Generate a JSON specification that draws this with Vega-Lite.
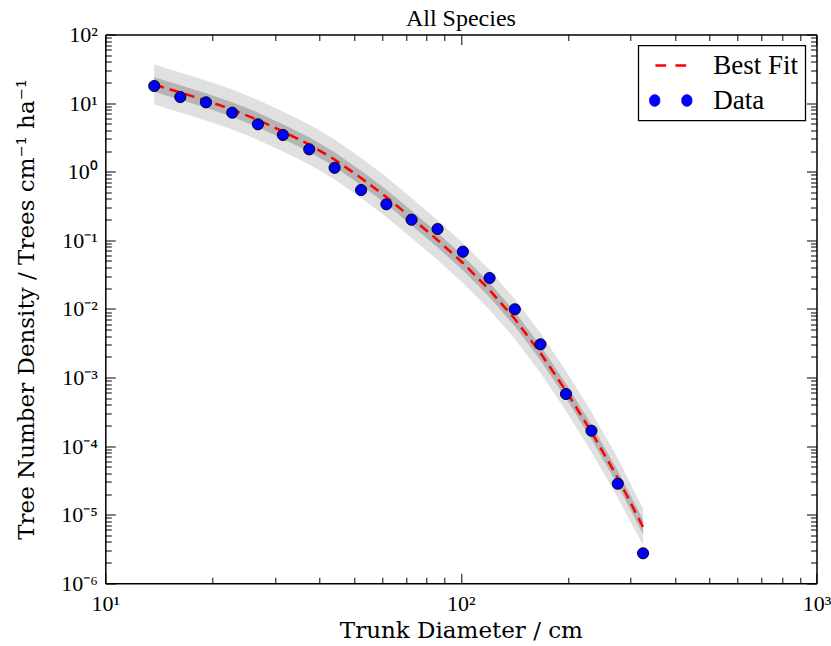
{
  "$schema": "https://vega.github.io/schema/vega-lite/v6.json",
  "width": 711.2,
  "height": 548.8,
  "autosize": {"type": "none"},
  "padding": {"left": 105.3, "top": 34.5, "right": 14.5, "bottom": 62.7},
  "background": "white",
  "title": {"text": "All Species", "font": "Liberation Serif", "fontSize": 24, "fontWeight": "normal", "color": "black", "offset": -7},
  "config": {
    "view": {"stroke": null},
    "axis": {
      "domainColor": "black", "domainWidth": 1.5, "tickColor": "black", "tickWidth": 1, "grid": false,
      "labelFont": "Liberation Serif", "labelFontSize": 22, "labelColor": "black",
      "titleFont": "DejaVu Serif", "titleFontSize": 23, "titleFontWeight": "normal", "titleColor": "black",
      "labelFlush": false, "labelOverlap": false, "labelBound": false
    }
  },
  "data": {"values": [
    {"D":13.73,"N":17.75,"fit":18.67,"lo1":9.574,"hi1":36.41,"lo2":14.59,"hi2":23.90},
    {"D":16.25,"N":12.27,"fit":14.27,"lo1":7.318,"hi1":27.83,"lo2":11.15,"hi2":18.27},
    {"D":19.19,"N":10.27,"fit":10.91,"lo1":5.595,"hi1":21.27,"lo2":8.523,"hi2":13.96},
    {"D":22.75,"N":7.25,"fit":8.067,"lo1":4.137,"hi1":15.73,"lo2":6.302,"hi2":10.33},
    {"D":26.87,"N":4.91,"fit":5.670,"lo1":2.908,"hi1":11.06,"lo2":4.430,"hi2":7.258},
    {"D":31.59,"N":3.43,"fit":3.855,"lo1":1.977,"hi1":7.517,"lo2":3.012,"hi2":4.934},
    {"D":37.45,"N":2.12,"fit":2.492,"lo1":1.278,"hi1":4.859,"lo2":1.947,"hi2":3.190},
    {"D":44.14,"N":1.14,"fit":1.506,"lo1":0.7723,"hi1":2.937,"lo2":1.177,"hi2":1.928},
    {"D":52.40,"N":0.541,"fit":0.8095,"lo1":0.4151,"hi1":1.579,"lo2":0.6324,"hi2":1.036},
    {"D":61.72,"N":0.3348,"fit":0.4278,"lo1":0.2194,"hi1":0.8342,"lo2":0.3342,"hi2":0.5476},
    {"D":72.66,"N":0.1997,"fit":0.2114,"lo1":0.1084,"hi1":0.4122,"lo2":0.1652,"hi2":0.2706},
    {"D":85.97,"N":0.1461,"fit":0.1010,"lo1":0.05179,"hi1":0.1970,"lo2":0.07891,"hi2":0.1293},
    {"D":101.3,"N":0.0682,"fit":0.04668,"lo1":0.02394,"hi1":0.09103,"lo2":0.03647,"hi2":0.05975},
    {"D":120.4,"N":0.02821,"fit":0.01886,"lo1":0.009672,"hi1":0.03678,"lo2":0.01473,"hi2":0.02414},
    {"D":141.8,"N":0.009867,"fit":0.007125,"lo1":0.003654,"hi1":0.01389,"lo2":0.005566,"hi2":0.00912},
    {"D":167.4,"N":0.003048,"fit":0.002276,"lo1":0.001167,"hi1":0.004438,"lo2":0.001778,"hi2":0.002913},
    {"D":197.5,"N":0.0005747,"fit":0.0006356,"lo1":0.0003259,"hi1":0.001239,"lo2":0.0004966,"hi2":0.0008136},
    {"D":232.9,"N":0.0001677,"fit":0.0001605,"lo1":0.00008231,"hi1":0.000313,"lo2":0.0001254,"hi2":0.0002054},
    {"D":276.2,"N":0.00002831,"fit":0.00003428,"lo1":0.00001758,"hi1":0.00006685,"lo2":0.00002678,"hi2":0.00004388},
    {"D":325.3,"N":0.000002737,"fit":0.000006617,"lo1":0.000003577,"hi1":0.00001224,"lo2":0.00000517,"hi2":0.00000847}
  ]},
  "resolve": {"axis": {"x": "independent", "y": "independent"}},
  "layer": [
    {
      "mark": {"type": "area", "color": "#e0e0e0", "opacity": 1},
      "encoding": {
        "x": {"field": "D", "type": "quantitative",
          "scale": {"type": "log", "domain": [10, 1000], "nice": false},
          "axis": {"orient": "bottom", "values": [10, 100, 1000], "tickSize": -10, "labelPadding": 20,
            "labelExpr": "'10' + ['⁻⁶','⁻⁵','⁻⁴','⁻³','⁻²','⁻¹','⁰','¹','²','³'][round(log(datum.value)/LN10)+6]",
            "title": "Trunk Diameter / cm", "titlePadding": 5}},
        "y": {"field": "lo1", "type": "quantitative",
          "scale": {"type": "log", "domain": [0.000001, 100], "nice": false},
          "axis": {"orient": "left", "values": [0.000001, 0.00001, 0.0001, 0.001, 0.01, 0.1, 1, 10, 100], "tickSize": -10, "labelPadding": 18,
            "labelExpr": "'10' + ['⁻⁶','⁻⁵','⁻⁴','⁻³','⁻²','⁻¹','⁰','¹','²','³'][round(log(datum.value)/LN10)+6]",
            "title": "Tree Number Density / Trees cm⁻¹ ha⁻¹", "titlePadding": 22}},
        "y2": {"field": "hi1"}
      }
    },
    {
      "mark": {"type": "area", "color": "#b4b4b4", "opacity": 1},
      "encoding": {
        "x": {"field": "D", "type": "quantitative",
          "axis": {"orient": "bottom", "values": [20,30,40,50,60,70,80,90,200,300,400,500,600,700,800,900], "tickSize": -6, "labels": false, "domain": false, "title": null}},
        "y": {"field": "lo2", "type": "quantitative",
          "axis": {"orient": "left", "values": [2e-6,3e-6,4e-6,5e-6,6e-6,7e-6,8e-6,9e-6,2e-5,3e-5,4e-5,5e-5,6e-5,7e-5,8e-5,9e-5,2e-4,3e-4,4e-4,5e-4,6e-4,7e-4,8e-4,9e-4,0.002,0.003,0.004,0.005,0.006,0.007,0.008,0.009,0.02,0.03,0.04,0.05,0.06,0.07,0.08,0.09,0.2,0.3,0.4,0.5,0.6,0.7,0.8,0.9,2,3,4,5,6,7,8,9,20,30,40,50,60,70,80,90], "tickSize": -6, "labels": false, "domain": false, "title": null}},
        "y2": {"field": "hi2"}
      }
    },
    {
      "mark": {"type": "line", "strokeWidth": 2.5, "strokeDash": [10, 6]},
      "encoding": {
        "x": {"field": "D", "type": "quantitative",
          "axis": {"orient": "top", "values": [10, 100, 1000], "tickSize": -10, "labels": false, "title": null}},
        "y": {"field": "fit", "type": "quantitative",
          "axis": {"orient": "right", "values": [0.000001, 0.00001, 0.0001, 0.001, 0.01, 0.1, 1, 10, 100], "tickSize": -10, "labels": false, "title": null}},
        "color": {"datum": "Best Fit",
          "scale": {"domain": ["Best Fit", "Data"], "range": ["#ff0000", "#0000ff"]},
          "legend": {"title": null, "orient": "top-right", "offset": 11, "padding": 7, "strokeColor": "#000000", "fillColor": "#ffffff",
            "labelFont": "Liberation Serif", "labelFontSize": 27, "labelColor": "black", "symbolSize": 1936, "clipHeight": 26, "rowPadding": 8,
            "labelOffset": 29, "symbolOffset": 12, "labelLimit": 0,
            "encode": {
              "legend": {"update": {"strokeWidth": {"value": 1.3}}},
              "symbols": {"update": {
                "shape": {"signal": "datum.value === 'Data' ? 'M-0.96,0A0.232,0.232,0,1,0,-0.5,0A0.232,0.232,0,1,0,-0.96,0ZM0.5,0A0.232,0.232,0,1,0,0.96,0A0.232,0.232,0,1,0,0.5,0Z' : 'M-0.7,0H-0.21M0.21,0H0.7'"},
                "fill": {"signal": "datum.value === 'Data' ? '#0000ff' : 'transparent'"},
                "stroke": {"signal": "datum.value === 'Data' ? '#000000' : '#ff0000'"},
                "strokeWidth": {"signal": "datum.value === 'Data' ? 0.9 : 2.5"},
                "size": {"value": 1936},
                "opacity": {"value": 1}
              }}
            }}}
      }
    },
    {
      "mark": {"type": "point", "filled": true, "size": 125, "stroke": "#000000", "strokeWidth": 0.9, "opacity": 1},
      "encoding": {
        "x": {"field": "D", "type": "quantitative",
          "axis": {"orient": "top", "values": [20,30,40,50,60,70,80,90,200,300,400,500,600,700,800,900], "tickSize": -6, "labels": false, "domain": false, "title": null}},
        "y": {"field": "N", "type": "quantitative",
          "axis": {"orient": "right", "values": [2e-6,3e-6,4e-6,5e-6,6e-6,7e-6,8e-6,9e-6,2e-5,3e-5,4e-5,5e-5,6e-5,7e-5,8e-5,9e-5,2e-4,3e-4,4e-4,5e-4,6e-4,7e-4,8e-4,9e-4,0.002,0.003,0.004,0.005,0.006,0.007,0.008,0.009,0.02,0.03,0.04,0.05,0.06,0.07,0.08,0.09,0.2,0.3,0.4,0.5,0.6,0.7,0.8,0.9,2,3,4,5,6,7,8,9,20,30,40,50,60,70,80,90], "tickSize": -6, "labels": false, "domain": false, "title": null}},
        "color": {"datum": "Data",
          "legend": {"title": null, "orient": "top-right", "offset": 11, "padding": 7, "strokeColor": "#000000", "fillColor": "#ffffff",
            "labelFont": "Liberation Serif", "labelFontSize": 27, "labelColor": "black", "symbolSize": 1936, "clipHeight": 26, "rowPadding": 8,
            "labelOffset": 29, "symbolOffset": 12, "labelLimit": 0,
            "encode": {
              "legend": {"update": {"strokeWidth": {"value": 1.3}}},
              "symbols": {"update": {
                "shape": {"signal": "datum.value === 'Data' ? 'M-0.96,0A0.232,0.232,0,1,0,-0.5,0A0.232,0.232,0,1,0,-0.96,0ZM0.5,0A0.232,0.232,0,1,0,0.96,0A0.232,0.232,0,1,0,0.5,0Z' : 'M-0.7,0H-0.21M0.21,0H0.7'"},
                "fill": {"signal": "datum.value === 'Data' ? '#0000ff' : 'transparent'"},
                "stroke": {"signal": "datum.value === 'Data' ? '#000000' : '#ff0000'"},
                "strokeWidth": {"signal": "datum.value === 'Data' ? 0.9 : 2.5"},
                "size": {"value": 1936},
                "opacity": {"value": 1}
              }}
            }}}
      }
    }
  ]
}
